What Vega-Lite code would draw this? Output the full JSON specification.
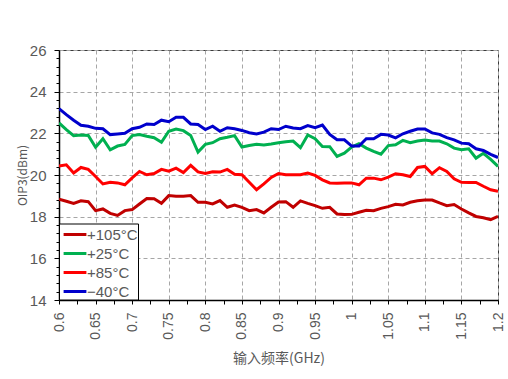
{
  "$schema": "https://vega.github.io/schema/vega-lite/v6.json",
  "width": 439,
  "height": 250,
  "autosize": "none",
  "padding": {"left": 59, "top": 50, "right": 10, "bottom": 79},
  "background": "white",
  "config": {
    "view": {"stroke": "#3a3a3a", "strokeWidth": 1},
    "font": "Liberation Sans"
  },
  "data": {
    "values": [
      {"f":0.60,"t":"+105°C","v":18.84},{"f":0.61,"t":"+105°C","v":18.74},{"f":0.62,"t":"+105°C","v":18.64},{"f":0.63,"t":"+105°C","v":18.76},{"f":0.64,"t":"+105°C","v":18.72},
      {"f":0.65,"t":"+105°C","v":18.29},{"f":0.66,"t":"+105°C","v":18.37},{"f":0.67,"t":"+105°C","v":18.16},{"f":0.68,"t":"+105°C","v":18.06},{"f":0.69,"t":"+105°C","v":18.29},
      {"f":0.70,"t":"+105°C","v":18.34},{"f":0.71,"t":"+105°C","v":18.61},{"f":0.72,"t":"+105°C","v":18.87},{"f":0.73,"t":"+105°C","v":18.86},{"f":0.74,"t":"+105°C","v":18.64},
      {"f":0.75,"t":"+105°C","v":19.01},{"f":0.76,"t":"+105°C","v":18.98},{"f":0.77,"t":"+105°C","v":18.98},{"f":0.78,"t":"+105°C","v":19.01},{"f":0.79,"t":"+105°C","v":18.69},
      {"f":0.80,"t":"+105°C","v":18.69},{"f":0.81,"t":"+105°C","v":18.61},{"f":0.82,"t":"+105°C","v":18.77},{"f":0.83,"t":"+105°C","v":18.45},{"f":0.84,"t":"+105°C","v":18.56},
      {"f":0.85,"t":"+105°C","v":18.45},{"f":0.86,"t":"+105°C","v":18.29},{"f":0.87,"t":"+105°C","v":18.34},{"f":0.88,"t":"+105°C","v":18.18},{"f":0.89,"t":"+105°C","v":18.45},
      {"f":0.90,"t":"+105°C","v":18.70},{"f":0.91,"t":"+105°C","v":18.72},{"f":0.92,"t":"+105°C","v":18.45},{"f":0.93,"t":"+105°C","v":18.76},{"f":0.94,"t":"+105°C","v":18.64},
      {"f":0.95,"t":"+105°C","v":18.53},{"f":0.96,"t":"+105°C","v":18.40},{"f":0.97,"t":"+105°C","v":18.45},{"f":0.98,"t":"+105°C","v":18.13},{"f":0.99,"t":"+105°C","v":18.10},
      {"f":1.00,"t":"+105°C","v":18.11},{"f":1.01,"t":"+105°C","v":18.21},{"f":1.02,"t":"+105°C","v":18.31},{"f":1.03,"t":"+105°C","v":18.29},{"f":1.04,"t":"+105°C","v":18.40},
      {"f":1.05,"t":"+105°C","v":18.48},{"f":1.06,"t":"+105°C","v":18.59},{"f":1.07,"t":"+105°C","v":18.56},{"f":1.08,"t":"+105°C","v":18.69},{"f":1.09,"t":"+105°C","v":18.76},
      {"f":1.10,"t":"+105°C","v":18.80},{"f":1.11,"t":"+105°C","v":18.80},{"f":1.12,"t":"+105°C","v":18.66},{"f":1.13,"t":"+105°C","v":18.53},{"f":1.14,"t":"+105°C","v":18.58},
      {"f":1.15,"t":"+105°C","v":18.37},{"f":1.16,"t":"+105°C","v":18.18},{"f":1.17,"t":"+105°C","v":18.01},{"f":1.18,"t":"+105°C","v":17.95},{"f":1.19,"t":"+105°C","v":17.86},
      {"f":1.20,"t":"+105°C","v":18.01},

      {"f":0.60,"t":"+25°C","v":22.50},{"f":0.61,"t":"+25°C","v":22.18},{"f":0.62,"t":"+25°C","v":21.89},{"f":0.63,"t":"+25°C","v":21.92},{"f":0.64,"t":"+25°C","v":21.90},
      {"f":0.65,"t":"+25°C","v":21.33},{"f":0.66,"t":"+25°C","v":21.74},{"f":0.67,"t":"+25°C","v":21.21},{"f":0.68,"t":"+25°C","v":21.39},{"f":0.69,"t":"+25°C","v":21.47},
      {"f":0.70,"t":"+25°C","v":21.89},{"f":0.71,"t":"+25°C","v":21.94},{"f":0.72,"t":"+25°C","v":21.86},{"f":0.73,"t":"+25°C","v":21.79},{"f":0.74,"t":"+25°C","v":21.57},
      {"f":0.75,"t":"+25°C","v":22.10},{"f":0.76,"t":"+25°C","v":22.21},{"f":0.77,"t":"+25°C","v":22.13},{"f":0.78,"t":"+25°C","v":21.90},{"f":0.79,"t":"+25°C","v":21.10},
      {"f":0.80,"t":"+25°C","v":21.47},{"f":0.81,"t":"+25°C","v":21.55},{"f":0.82,"t":"+25°C","v":21.74},{"f":0.83,"t":"+25°C","v":21.81},{"f":0.84,"t":"+25°C","v":21.89},
      {"f":0.85,"t":"+25°C","v":21.34},{"f":0.86,"t":"+25°C","v":21.42},{"f":0.87,"t":"+25°C","v":21.47},{"f":0.88,"t":"+25°C","v":21.44},{"f":0.89,"t":"+25°C","v":21.49},
      {"f":0.90,"t":"+25°C","v":21.55},{"f":0.91,"t":"+25°C","v":21.60},{"f":0.92,"t":"+25°C","v":21.63},{"f":0.93,"t":"+25°C","v":21.31},{"f":0.94,"t":"+25°C","v":21.92},
      {"f":0.95,"t":"+25°C","v":21.74},{"f":0.96,"t":"+25°C","v":21.37},{"f":0.97,"t":"+25°C","v":21.36},{"f":0.98,"t":"+25°C","v":20.89},{"f":0.99,"t":"+25°C","v":21.05},
      {"f":1.00,"t":"+25°C","v":21.34},{"f":1.01,"t":"+25°C","v":21.50},{"f":1.02,"t":"+25°C","v":21.29},{"f":1.03,"t":"+25°C","v":21.13},{"f":1.04,"t":"+25°C","v":21.00},
      {"f":1.05,"t":"+25°C","v":21.41},{"f":1.06,"t":"+25°C","v":21.45},{"f":1.07,"t":"+25°C","v":21.66},{"f":1.08,"t":"+25°C","v":21.55},{"f":1.09,"t":"+25°C","v":21.63},
      {"f":1.10,"t":"+25°C","v":21.68},{"f":1.11,"t":"+25°C","v":21.63},{"f":1.12,"t":"+25°C","v":21.63},{"f":1.13,"t":"+25°C","v":21.50},{"f":1.14,"t":"+25°C","v":21.29},
      {"f":1.15,"t":"+25°C","v":21.21},{"f":1.16,"t":"+25°C","v":21.26},{"f":1.17,"t":"+25°C","v":20.81},{"f":1.18,"t":"+25°C","v":21.04},{"f":1.19,"t":"+25°C","v":20.75},
      {"f":1.20,"t":"+25°C","v":20.41},

      {"f":0.60,"t":"+85°C","v":20.43},{"f":0.61,"t":"+85°C","v":20.49},{"f":0.62,"t":"+85°C","v":20.10},{"f":0.63,"t":"+85°C","v":20.36},{"f":0.64,"t":"+85°C","v":20.27},
      {"f":0.65,"t":"+85°C","v":19.93},{"f":0.66,"t":"+85°C","v":19.57},{"f":0.67,"t":"+85°C","v":19.65},{"f":0.68,"t":"+85°C","v":19.62},{"f":0.69,"t":"+85°C","v":19.53},
      {"f":0.70,"t":"+85°C","v":19.86},{"f":0.71,"t":"+85°C","v":20.17},{"f":0.72,"t":"+85°C","v":20.01},{"f":0.73,"t":"+85°C","v":20.07},{"f":0.74,"t":"+85°C","v":20.27},
      {"f":0.75,"t":"+85°C","v":20.18},{"f":0.76,"t":"+85°C","v":20.33},{"f":0.77,"t":"+85°C","v":20.12},{"f":0.78,"t":"+85°C","v":20.46},{"f":0.79,"t":"+85°C","v":20.15},
      {"f":0.80,"t":"+85°C","v":20.07},{"f":0.81,"t":"+85°C","v":20.15},{"f":0.82,"t":"+85°C","v":20.14},{"f":0.83,"t":"+85°C","v":20.27},{"f":0.84,"t":"+85°C","v":20.04},
      {"f":0.85,"t":"+85°C","v":20.01},{"f":0.86,"t":"+85°C","v":19.65},{"f":0.87,"t":"+85°C","v":19.29},{"f":0.88,"t":"+85°C","v":19.57},{"f":0.89,"t":"+85°C","v":19.88},
      {"f":0.90,"t":"+85°C","v":20.07},{"f":0.91,"t":"+85°C","v":20.01},{"f":0.92,"t":"+85°C","v":20.01},{"f":0.93,"t":"+85°C","v":20.01},{"f":0.94,"t":"+85°C","v":20.09},
      {"f":0.95,"t":"+85°C","v":19.98},{"f":0.96,"t":"+85°C","v":19.77},{"f":0.97,"t":"+85°C","v":19.62},{"f":0.98,"t":"+85°C","v":19.61},{"f":0.99,"t":"+85°C","v":19.62},
      {"f":1.00,"t":"+85°C","v":19.62},{"f":1.01,"t":"+85°C","v":19.53},{"f":1.02,"t":"+85°C","v":19.85},{"f":1.03,"t":"+85°C","v":19.85},{"f":1.04,"t":"+85°C","v":19.77},
      {"f":1.05,"t":"+85°C","v":19.90},{"f":1.06,"t":"+85°C","v":20.06},{"f":1.07,"t":"+85°C","v":20.01},{"f":1.08,"t":"+85°C","v":19.93},{"f":1.09,"t":"+85°C","v":20.36},
      {"f":1.10,"t":"+85°C","v":20.41},{"f":1.11,"t":"+85°C","v":20.06},{"f":1.12,"t":"+85°C","v":20.35},{"f":1.13,"t":"+85°C","v":20.17},{"f":1.14,"t":"+85°C","v":19.82},
      {"f":1.15,"t":"+85°C","v":19.65},{"f":1.16,"t":"+85°C","v":19.64},{"f":1.17,"t":"+85°C","v":19.64},{"f":1.18,"t":"+85°C","v":19.46},{"f":1.19,"t":"+85°C","v":19.29},
      {"f":1.20,"t":"+85°C","v":19.22},

      {"f":0.60,"t":"−40°C","v":23.19},{"f":0.61,"t":"−40°C","v":22.90},{"f":0.62,"t":"−40°C","v":22.63},{"f":0.63,"t":"−40°C","v":22.39},{"f":0.64,"t":"−40°C","v":22.34},
      {"f":0.65,"t":"−40°C","v":22.24},{"f":0.66,"t":"−40°C","v":22.22},{"f":0.67,"t":"−40°C","v":21.94},{"f":0.68,"t":"−40°C","v":21.97},{"f":0.69,"t":"−40°C","v":22.00},
      {"f":0.70,"t":"−40°C","v":22.22},{"f":0.71,"t":"−40°C","v":22.29},{"f":0.72,"t":"−40°C","v":22.45},{"f":0.73,"t":"−40°C","v":22.42},{"f":0.74,"t":"−40°C","v":22.63},
      {"f":0.75,"t":"−40°C","v":22.56},{"f":0.76,"t":"−40°C","v":22.77},{"f":0.77,"t":"−40°C","v":22.77},{"f":0.78,"t":"−40°C","v":22.45},{"f":0.79,"t":"−40°C","v":22.42},
      {"f":0.80,"t":"−40°C","v":22.18},{"f":0.81,"t":"−40°C","v":22.34},{"f":0.82,"t":"−40°C","v":22.10},{"f":0.83,"t":"−40°C","v":22.27},{"f":0.84,"t":"−40°C","v":22.22},
      {"f":0.85,"t":"−40°C","v":22.14},{"f":0.86,"t":"−40°C","v":22.03},{"f":0.87,"t":"−40°C","v":21.97},{"f":0.88,"t":"−40°C","v":22.06},{"f":0.89,"t":"−40°C","v":22.22},
      {"f":0.90,"t":"−40°C","v":22.18},{"f":0.91,"t":"−40°C","v":22.34},{"f":0.92,"t":"−40°C","v":22.26},{"f":0.93,"t":"−40°C","v":22.22},{"f":0.94,"t":"−40°C","v":22.37},
      {"f":0.95,"t":"−40°C","v":22.27},{"f":0.96,"t":"−40°C","v":22.40},{"f":0.97,"t":"−40°C","v":21.95},{"f":0.98,"t":"−40°C","v":21.69},{"f":0.99,"t":"−40°C","v":21.69},
      {"f":1.00,"t":"−40°C","v":21.39},{"f":1.01,"t":"−40°C","v":21.39},{"f":1.02,"t":"−40°C","v":21.74},{"f":1.03,"t":"−40°C","v":21.74},{"f":1.04,"t":"−40°C","v":21.95},
      {"f":1.05,"t":"−40°C","v":21.92},{"f":1.06,"t":"−40°C","v":21.78},{"f":1.07,"t":"−40°C","v":21.98},{"f":1.08,"t":"−40°C","v":22.10},{"f":1.09,"t":"−40°C","v":22.21},
      {"f":1.10,"t":"−40°C","v":22.21},{"f":1.11,"t":"−40°C","v":22.02},{"f":1.12,"t":"−40°C","v":21.95},{"f":1.13,"t":"−40°C","v":21.79},{"f":1.14,"t":"−40°C","v":21.69},
      {"f":1.15,"t":"−40°C","v":21.53},{"f":1.16,"t":"−40°C","v":21.50},{"f":1.17,"t":"−40°C","v":21.26},{"f":1.18,"t":"−40°C","v":21.18},{"f":1.19,"t":"−40°C","v":20.99},
      {"f":1.20,"t":"−40°C","v":20.84}
    ]
  },
  "mark": {"type": "line", "strokeWidth": 3, "clip": true},
  "encoding": {
    "x": {
      "field": "f",
      "type": "quantitative",
      "scale": {"domain": [0.6, 1.2], "nice": false, "zero": false},
      "axis": {
        "title": "输入频率(GHz)",
        "titleFont": "Noto Sans CJK SC",
        "titleFontSize": 14,
        "titleFontWeight": "normal",
        "titleColor": "#595959",
        "titleY": 58,
        "titleBaseline": "middle",
        "values": [0.6,0.625,0.65,0.675,0.7,0.725,0.75,0.775,0.8,0.825,0.85,0.875,0.9,0.925,0.95,0.975,1,1.025,1.05,1.075,1.1,1.125,1.15,1.175,1.2],
        "labelExpr": "abs(datum.value*20 - round(datum.value*20)) < 0.001 ? format(datum.value, '~g') : ''",
        "labelAngle": -90,
        "labelAlign": "right",
        "labelBaseline": "middle",
        "labelFontSize": 14,
        "labelColor": "#595959",
        "labelPadding": 8,
        "labelOverlap": false,
        "labelFlush": false,
        "domainColor": "#000000",
        "domainWidth": 1.5,
        "tickColor": "#000000",
        "tickSize": 4,
        "grid": true,
        "gridColor": "#a6a6a6",
        "gridDash": [4, 3],
        "gridWidth": 1,
        "gridOpacity": {"condition": {"test": "abs(datum.value*20 - round(datum.value*20)) < 0.001", "value": 1}, "value": 0}
      }
    },
    "y": {
      "field": "v",
      "type": "quantitative",
      "scale": {"domain": [14, 26], "nice": false, "zero": false},
      "axis": {
        "title": "OIP3(dBm)",
        "titleFont": "Noto Sans CJK SC",
        "titleFontSize": 12,
        "titleFontWeight": "normal",
        "titleColor": "#595959",
        "titleX": -37,
        "titleY": 125,
        "titleAngle": -90,
        "titleBaseline": "middle",
        "values": [14,14.4,14.8,15.2,15.6,16,16.4,16.8,17.2,17.6,18,18.4,18.8,19.2,19.6,20,20.4,20.8,21.2,21.6,22,22.4,22.8,23.2,23.6,24,24.4,24.8,25.2,25.6,26],
        "labelExpr": "abs(datum.value/2 - round(datum.value/2)) < 0.001 ? format(datum.value, 'd') : ''",
        "labelFontSize": 15,
        "labelColor": "#595959",
        "labelPadding": 8,
        "labelOverlap": false,
        "labelFlush": false,
        "domainColor": "#000000",
        "domainWidth": 1.5,
        "tickColor": "#000000",
        "tickSize": {"condition": {"test": "abs(datum.value/2 - round(datum.value/2)) < 0.001", "value": 5}, "value": 3},
        "grid": true,
        "gridColor": "#a6a6a6",
        "gridDash": [4, 3],
        "gridWidth": 1,
        "gridOpacity": {"condition": {"test": "abs(datum.value/2 - round(datum.value/2)) < 0.001", "value": 1}, "value": 0}
      }
    },
    "color": {
      "field": "t",
      "type": "nominal",
      "scale": {
        "domain": ["+105°C", "+25°C", "+85°C", "−40°C"],
        "range": ["#C00000", "#00B050", "#FF0000", "#0000CC"]
      },
      "legend": {
        "title": null,
        "orient": "none",
        "legendX": 0,
        "legendY": 173.5,
        "symbolType": "M-1.2,0H1.2",
        "symbolSize": 361,
        "symbolStrokeWidth": 3,
        "symbolOffset": 5,
        "labelFontSize": 15,
        "labelColor": "#595959",
        "labelOffset": 1,
        "padding": 0,
        "rowPadding": 0,
        "strokeColor": "#000000",
        "fillColor": "#ffffff"
      }
    }
  }
}
